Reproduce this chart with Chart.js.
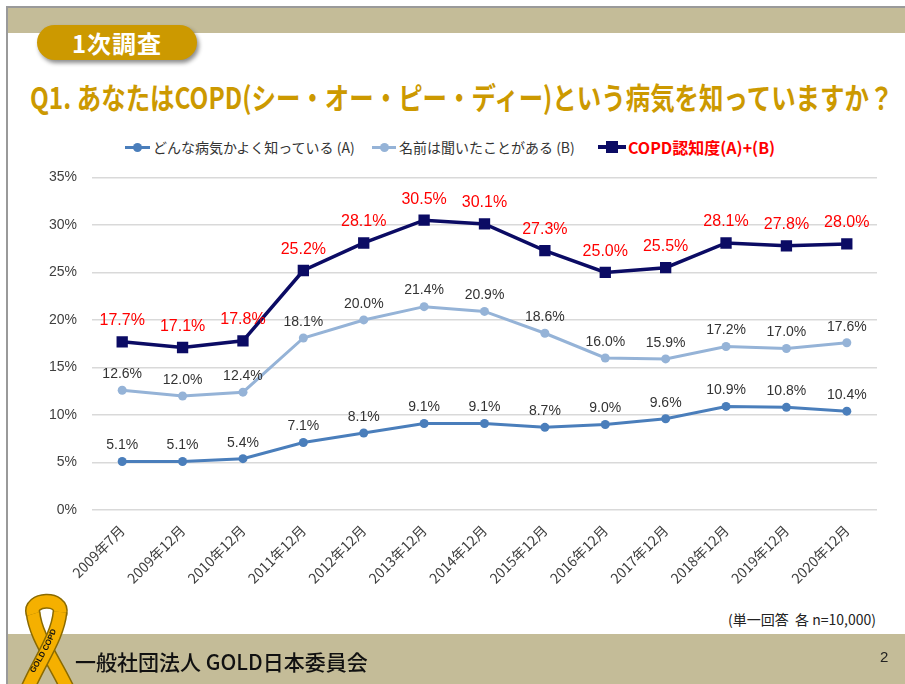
<!DOCTYPE html>
<html lang="ja">
<head>
<meta charset="utf-8">
<title>COPD認知度</title>
<script src="https://cdn.jsdelivr.net/npm/chart.js@4/dist/chart.umd.min.js"></script>
<style>
  html, body { margin: 0; padding: 0; background: #fff; }
  body { width: 905px; height: 684px; position: relative; overflow: hidden;
         font-family: "Noto Sans CJK JP", "Liberation Sans", sans-serif; }
  .frame-left { position: absolute; left: 6px; top: 6px; width: 2px; height: 678px; background: #9a9a9a; }
  .frame-top  { position: absolute; left: 6px; top: 6px; width: 899px; height: 2px; background: #9a9a9a; }
  .band-top   { position: absolute; left: 8px; top: 8px; width: 897px; height: 25px; background: #c4bc98; }
  .band-bot   { position: absolute; left: 8px; top: 634px; width: 897px; height: 50px; background: #c4bc98; }
  .badge { position: absolute; left: 37px; top: 25px; width: 160px; height: 35px; border-radius: 18px;
           background: #cc9900; color: #fff; font-weight: bold; font-size: 24px; line-height: 35px;
           text-align: center; box-shadow: 2px 3px 4px rgba(0,0,0,0.45); letter-spacing: 1px; }
  .title { position: absolute; left: 30px; top: 76px; white-space: nowrap; color: #cc9900;
           font-size: 30px; font-weight: bold; line-height: 40px; transform-origin: 0 50%; }
  .legend { position: absolute; top: 137px; left: 0; height: 20px; font-size: 14px; color: #333; }
  .legend .item { position: absolute; top: 0; white-space: nowrap; line-height: 20px; }
  .legend .mk { position: absolute; top: 10px; height: 3px; margin-top: -1.5px; }
  .legend .dot { position: absolute; top: 10px; border-radius: 50%; }
  .note { position: absolute; left: 728px; top: 609px; font-size: 14px; color: #222; white-space: nowrap; }
  .org  { position: absolute; left: 75px; top: 646px; font-size: 21px; font-weight: 500; color: #111; white-space: nowrap; }
  .page { position: absolute; left: 880px; top: 648px; font-size: 15px; color: #222; font-family: "Liberation Sans", sans-serif; }
  #chart { position: absolute; left: 30px; top: 154px; }
  svg.ribbon { position: absolute; left: 0; top: 0; }
</style>
</head>
<body>
<div class="frame-left"></div>
<div class="frame-top"></div>
<div class="band-top"></div>
<div class="band-bot"></div>
<div class="badge">1次調査</div>
<div class="title" id="title">Q1. あなたはCOPD(シー・オー・ピー・ディー)という病気を知っていますか？</div>

<div class="legend">
  <div class="item" style="left:125px">
    <span class="mk" style="left:0;width:25px;background:#4a7ebb"></span>
    <span class="dot" style="left:8px;width:9px;height:9px;margin-top:-4.5px;background:#4a7ebb"></span>
    <span style="margin-left:28px">どんな病気かよく知っている (A)</span>
  </div>
  <div class="item" style="left:372px">
    <span class="mk" style="left:0;width:24px;background:#95b3d7"></span>
    <span class="dot" style="left:8px;width:9px;height:9px;margin-top:-4.5px;background:#95b3d7"></span>
    <span style="margin-left:27px">名前は聞いたことがある (B)</span>
  </div>
  <div class="item" style="left:598px">
    <span class="mk" style="left:0;width:28px;height:4px;margin-top:-2px;background:#0b0b64"></span>
    <span class="dot" style="left:8px;width:12px;height:12px;margin-top:-6px;border-radius:0;background:#0b0b64"></span>
    <span style="margin-left:30px;color:#ff0000;font-weight:bold;font-size:16px">COPD認知度(A)+(B)</span>
  </div>
</div>

<canvas id="chart" width="855" height="446"></canvas>

<div class="note">(単一回答&nbsp;&nbsp;各 n=10,000)</div>

<svg class="ribbon" width="905" height="684">
  <path d="M33 612 C35 636 54 660 68 690" fill="none" stroke="#8a6a00" stroke-width="15"/>
  <path d="M33 612 C35 636 54 660 68 690" fill="none" stroke="#f5b000" stroke-width="12"/>
  <path d="M33 614 C28 598 64 596 60 614" fill="none" stroke="#8a6a00" stroke-width="15"/>
  <path d="M33 614 C28 598 64 596 60 614" fill="none" stroke="#f5b000" stroke-width="12"/>
  <path d="M60 612 C58 636 40 660 27 690" fill="none" stroke="#8a6a00" stroke-width="15"/>
  <path d="M60 612 C58 636 40 660 27 690" fill="none" stroke="#f5b000" stroke-width="12"/>
  <path id="txtpath" d="M30 680 C42 660 56 640 60 614" fill="none"/>
  <text font-family="Liberation Sans, sans-serif" font-size="8" font-weight="bold" fill="#111">
    <textPath href="#txtpath" startOffset="8">GOLD COPD</textPath>
  </text>
</svg>

<div class="org">一般社団法人 GOLD日本委員会</div>
<div class="page">2</div>

<script>
/* ---------- data ---------- */
const SURVEYS = ['2009年7月', '2009年12月', '2010年12月', '2011年12月', '2012年12月', '2013年12月',
                 '2014年12月', '2015年12月', '2016年12月', '2017年12月', '2018年12月', '2019年12月', '2020年12月'];

const KNOW_WELL   = [5.1, 5.1, 5.4, 7.1, 8.1, 9.1, 9.1, 8.7, 9.0, 9.6, 10.9, 10.8, 10.4];
const HEARD_NAME  = [12.6, 12.0, 12.4, 18.1, 20.0, 21.4, 20.9, 18.6, 16.0, 15.9, 17.2, 17.0, 17.6];
const AWARENESS   = [17.7, 17.1, 17.8, 25.2, 28.1, 30.5, 30.1, 27.3, 25.0, 25.5, 28.1, 27.8, 28.0];

const Y_TICKS = [0, 5, 10, 15, 20, 25, 30, 35];

const NUM_FONT = '"Liberation Sans", Arial, sans-serif';

/* fit the title to its width, like the condensed slide font */
const title = document.getElementById('title');
title.style.transform = 'scaleX(' + (863 / title.scrollWidth) + ')';

/* ---------- value labels above points ---------- */
const valueLabels = {
  id: 'valueLabels',
  afterDatasetsDraw(chart) {
    const ctx = chart.ctx;
    chart.data.datasets.forEach((ds, i) => {
      const meta = chart.getDatasetMeta(i);
      ctx.save();
      ctx.font = ds.labelFont;
      ctx.fillStyle = ds.labelColor;
      ctx.textAlign = 'center';
      ctx.textBaseline = 'middle';
      meta.data.forEach((pt, j) => {
        ctx.fillText(ds.data[j].toFixed(1) + '%', pt.x, pt.y - ds.labelOffset);
      });
      ctx.restore();
    });
  }
};

new Chart(document.getElementById('chart'), {
  type: 'line',
  data: {
    labels: SURVEYS,
    datasets: [
      {
        label: 'どんな病気かよく知っている (A)',
        data: KNOW_WELL,
        borderColor: '#4a7ebb',
        backgroundColor: '#4a7ebb',
        borderWidth: 3,
        pointRadius: 4.5,
        pointBorderWidth: 0,
        tension: 0,
        labelFont: '14px ' + NUM_FONT,
        labelColor: '#333333',
        labelOffset: 16,
      },
      {
        label: '名前は聞いたことがある (B)',
        data: HEARD_NAME,
        borderColor: '#95b3d7',
        backgroundColor: '#95b3d7',
        borderWidth: 3,
        pointRadius: 4.5,
        pointBorderWidth: 0,
        tension: 0,
        labelFont: '14px ' + NUM_FONT,
        labelColor: '#333333',
        labelOffset: 16,
      },
      {
        label: 'COPD認知度(A)+(B)',
        data: AWARENESS,
        borderColor: '#0b0b64',
        backgroundColor: '#0b0b64',
        borderWidth: 3.5,
        pointStyle: 'rect',
        pointRadius: 8,
        pointBorderWidth: 0,
        tension: 0,
        labelFont: '16px ' + NUM_FONT,
        labelColor: '#ff0000',
        labelOffset: 21,
      },
    ],
  },
  options: {
    responsive: false,
    animation: false,
    layout: { padding: { top: 11, right: 0, left: 0, bottom: 0 } },
    plugins: { legend: { display: false }, tooltip: { enabled: false } },
    scales: {
      x: {
        offset: true,
        grid: { display: false, offset: true },
        border: { display: false },
        ticks: {
          color: '#404040',
          font: { size: 14, family: '"Noto Sans CJK JP", "Liberation Sans", sans-serif' },
          minRotation: 45,
          maxRotation: 45,
          autoSkip: false,
          padding: 4,
        },
        afterFit(scale) { scale.height = 90; },
      },
      y: {
        min: 0,
        max: 35,
        afterBuildTicks(scale) { scale.ticks = Y_TICKS.map(v => ({ value: v })); },
        ticks: {
          color: '#404040',
          font: { size: 14, family: NUM_FONT },
          padding: 15,
          callback: v => v + '%',
        },
        grid: { color: '#d9d9d9', lineWidth: 1.5, drawTicks: false },
        border: { display: false },
        afterFit(scale) { scale.width = 62; },
      },
    },
  },
  plugins: [valueLabels],
});
</script>
</body>
</html>
